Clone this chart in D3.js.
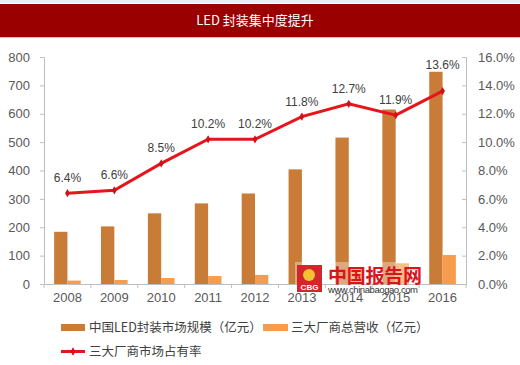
<!DOCTYPE html>
<html>
<head>
<meta charset="utf-8">
<script src="https://cdn.jsdelivr.net/npm/d3@7"></script>
<style>
  body { margin: 0; background: #fff; }
  svg { display: block; font-family: "Liberation Sans", Arial, sans-serif; }
</style>
</head>
<body>
<div id="chart"></div>
<script>
'use strict';

// Chart data
const years = ['2008', '2009', '2010', '2011', '2012', '2013', '2014', '2015', '2016'];
const marketSize = [184, 203, 249, 284, 319, 404, 516, 615, 748];   // 中国LED封装市场规模（亿元）
const top3Revenue = [12, 14, 21, 28, 32, 45, 55, 73, 102];          // 三大厂商总营收（亿元）
const top3Share = [6.4, 6.6, 8.5, 10.2, 10.2, 11.8, 12.7, 11.9, 13.6]; // 三大厂商市场占有率 (%)
const leftTicks = [0, 100, 200, 300, 400, 500, 600, 700, 800];
const rightTicks = [0, 2, 4, 6, 8, 10, 12, 14, 16];
const seriesNames = ['中国LED封装市场规模（亿元）', '三大厂商总营收（亿元）', '三大厂商市场占有率'];

const width = 520, height = 365;
const plotLeft = 44, plotRight = 466, plotTop = 57, plotBottom = 284;
const colBig = '#c97b38', colSmall = '#f79b4c', colLine = '#e8141b', axisCol = '#bfbfbf';

let svg = d3.select('#chart').append('svg')
    .attr('width', width).attr('height', height);

// Title bar
svg.append('rect').attr('x', 0).attr('y', 0).attr('width', width).attr('height', 3).attr('fill', '#e6eef5');
svg.append('rect').attr('x', 0).attr('y', 4).attr('width', width).attr('height', 33).attr('fill', '#9b0000');
svg.append('rect').attr('x', 0).attr('y', 37).attr('width', width).attr('height', 1).attr('fill', '#e7b7b7');
svg.append('text')
    .attr('x', 255).attr('y', 25)
    .attr('text-anchor', 'middle')
    .attr('fill', '#fff')
    .attr('font-size', 13)
    .attr('font-family', '"Noto Sans CJK SC", sans-serif')
    .text('LED 封装集中度提升');

// Scales
let x = d3.scaleBand().domain(years).range([plotLeft, plotRight]);
let xSub = d3.scaleBand().domain(['big', 'small']).range([0, x.bandwidth()]).paddingOuter(0.76);
let yL = d3.scaleLinear().domain([0, 800]).range([plotBottom, plotTop]);
let yR = d3.scaleLinear().domain([0, 16]).range([plotBottom, plotTop]);

// Axes
let axL = svg.append('g').attr('transform', `translate(${plotLeft},0)`)
    .call(d3.axisLeft(yL).tickValues(leftTicks).tickSize(4).tickPadding(10));
let axR = svg.append('g').attr('transform', `translate(${plotRight},0)`)
    .call(d3.axisRight(yR).tickValues(rightTicks).tickSize(-4).tickPadding(12)
        .tickFormat(d => d.toFixed(1) + '%'));
let axX = svg.append('g').attr('transform', `translate(0,${plotBottom})`)
    .call(d3.axisBottom(x).tickSize(0).tickPadding(9));

[axL, axR, axX].forEach(g => {
    g.select('.domain').attr('stroke', axisCol);
    g.selectAll('.tick line').attr('stroke', axisCol);
    g.selectAll('.tick text').attr('fill', '#595959').attr('font-size', 13)
        .attr('font-family', '"Liberation Sans", Arial, sans-serif');
});
axR.selectAll('.tick text').attr('x', 12);

// x tick marks at category boundaries
svg.append('g').selectAll('line')
    .data(years.concat(['end']))
    .join('line')
    .attr('x1', (d, i) => plotLeft + i * x.step()).attr('x2', (d, i) => plotLeft + i * x.step())
    .attr('y1', plotBottom).attr('y2', plotBottom + 4)
    .attr('stroke', axisCol);

// Bars
let groups = svg.append('g').selectAll('g')
    .data(years)
    .join('g')
    .attr('transform', d => `translate(${x(d)},0)`);

groups.append('rect')
    .attr('x', xSub('big')).attr('width', xSub.bandwidth())
    .attr('y', (d, i) => yL(marketSize[i]))
    .attr('height', (d, i) => plotBottom - yL(marketSize[i]))
    .attr('fill', colBig);

groups.append('rect')
    .attr('x', xSub('small')).attr('width', xSub.bandwidth())
    .attr('y', (d, i) => yL(top3Revenue[i]))
    .attr('height', (d, i) => plotBottom - yL(top3Revenue[i]))
    .attr('fill', colSmall);

// Share line
let cx = d => x(d) + x.bandwidth() / 2;
let lineGen = d3.line()
    .x((d, i) => cx(years[i]))
    .y(d => yR(d));

svg.append('path')
    .datum(top3Share)
    .attr('d', lineGen)
    .attr('fill', 'none')
    .attr('stroke', colLine)
    .attr('stroke-width', 3);

svg.append('g').selectAll('path')
    .data(top3Share)
    .join('path')
    .attr('transform', (d, i) => `translate(${cx(years[i])},${yR(d)})`)
    .attr('d', d3.symbol(d3.symbolDiamond, 20))
    .attr('fill', '#d0101a');

// Data labels (the last one sits above its bar)
svg.append('g').selectAll('text')
    .data(top3Share)
    .join('text')
    .attr('x', (d, i) => cx(years[i]))
    .attr('y', (d, i) => i === years.length - 1 ? yL(marketSize[i]) - 3 : yR(d) - 11)
    .attr('text-anchor', 'middle')
    .attr('font-size', 12)
    .attr('fill', '#404040')
    .text(d => d.toFixed(1) + '%');

// Watermark (faint white backing, logo, site name)
let wm = svg.append('g');
wm.append('rect').attr('x', 295).attr('y', 262).attr('width', 130).attr('height', 22)
    .attr('fill', '#fff').attr('opacity', 0.35);
wm.append('rect').attr('x', 297).attr('y', 265).attr('width', 25).attr('height', 27).attr('fill', '#d3262c');
wm.append('circle').attr('cx', 309).attr('cy', 275).attr('r', 6).attr('fill', '#f2c230');
wm.append('text').attr('x', 309.5).attr('y', 290).attr('text-anchor', 'middle')
    .attr('font-size', 8).attr('font-weight', 'bold').attr('fill', '#fff').text('CBG');
wm.append('text').attr('x', 328).attr('y', 283)
    .attr('font-size', 19).attr('font-weight', 'bold').attr('fill', '#d9141b')
    .attr('font-family', '"Noto Sans CJK SC", sans-serif')
    .attr('textLength', 94)
    .text('中国报告网');
wm.append('text').attr('x', 328).attr('y', 293)
    .attr('font-size', 9.5).attr('fill', '#333')
    .attr('textLength', 90)
    .text('www.chinabaogao.com');

// Legend
let legend = svg.append('g')
    .attr('font-family', '"Noto Sans CJK SC", sans-serif')
    .attr('font-size', 12.5)
    .attr('fill', '#404040');

legend.append('rect').attr('x', 61).attr('y', 324).attr('width', 24).attr('height', 7).attr('fill', colBig);
legend.append('text').attr('x', 89).attr('y', 332).text(seriesNames[0]);
legend.append('rect').attr('x', 263).attr('y', 324).attr('width', 25).attr('height', 7).attr('fill', colSmall);
legend.append('text').attr('x', 291).attr('y', 332).text(seriesNames[1]);
legend.append('line').attr('x1', 61).attr('x2', 85).attr('y1', 351.5).attr('y2', 351.5)
    .attr('stroke', colLine).attr('stroke-width', 3);
legend.append('path').attr('transform', 'translate(73,351.5)')
    .attr('d', d3.symbol(d3.symbolDiamond, 20)).attr('fill', '#d0101a');
legend.append('text').attr('x', 89).attr('y', 356).text(seriesNames[2]);
</script>
</body>
</html>
